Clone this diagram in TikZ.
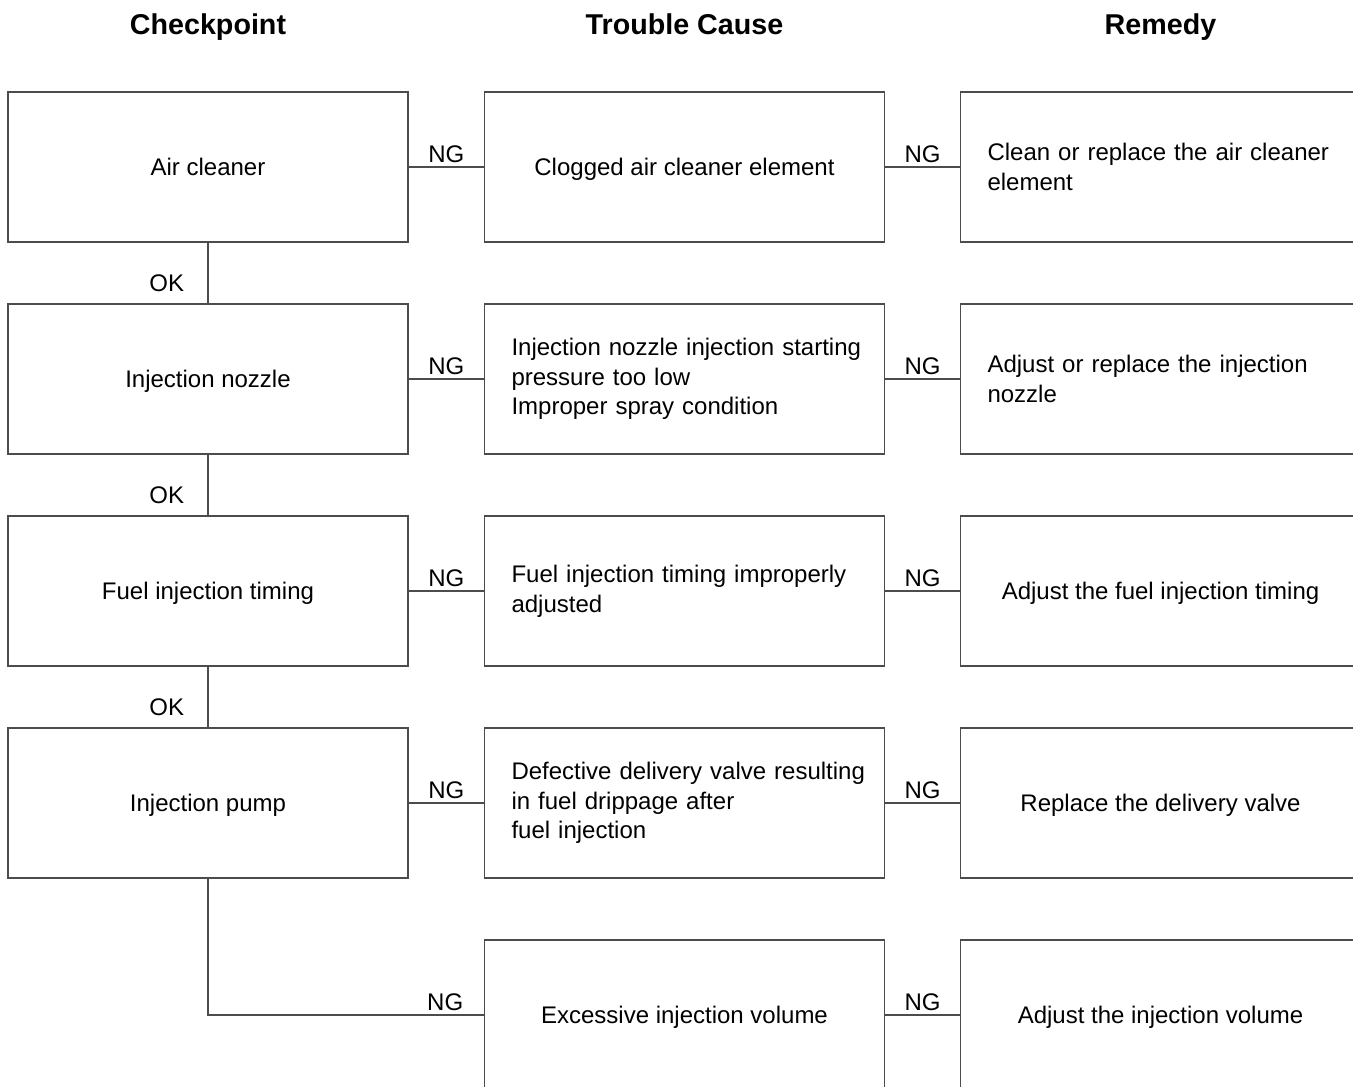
\documentclass[tikz,border=0pt]{standalone}
\usepackage{fontspec}
\setmainfont{Liberation Sans}
\newcommand{\boxfont}{\fontsize{18}{22.2}\selectfont}
\begin{document}
\begin{tikzpicture}[x=0.75pt,y=-0.75pt,
  box/.style={draw=black!70,line width=1pt,minimum width=300pt,minimum height=112.5pt,inner sep=0pt,font=\boxfont},
  lbox/.style={box,text width=259.5pt,align=left},
  cbox/.style={box,align=center,text height=13pt,text depth=1pt},
  conn/.style={draw=black!70,line width=1pt},
  lab/.style={font=\fontsize{18}{22}\selectfont,inner sep=3pt},
  head/.style={font=\fontsize{21.5}{25}\selectfont\bfseries,anchor=base}]
\useasboundingbox (0,0) rectangle (1353,1086);
\node[head] (h1) at (208,34) {Checkpoint};
\node[head] (h2) at (684.5,34) {Trouble Cause};
\node[head] (h3) at (1160.5,34) {Remedy};

\node[cbox] (a1) at (208,167) {Air cleaner};
\node[cbox] (a2) at (208,379) {Injection nozzle};
\node[cbox] (a3) at (208,591) {Fuel injection timing};
\node[cbox] (a4) at (208,803) {Injection pump};

\node[cbox] (b1) at (684.5,167) {Clogged air cleaner element};
\node[lbox] (b2) at (684.5,379) {\mbox{Injection nozzle injection starting}\\pressure too low\\Improper spray condition};
\node[lbox] (b3) at (684.5,591) {\mbox{Fuel injection timing improperly}\\adjusted};
\node[lbox] (b4) at (684.5,803) {\mbox{Defective delivery valve resulting}\\in fuel drippage after\\fuel injection};
\node[cbox] (b5) at (684.5,1015) {Excessive injection volume};

\node[lbox] (c1) at (1160.5,167) {\mbox{Clean or replace the air cleaner}\\element};
\node[lbox] (c2) at (1160.5,379) {\mbox{Adjust or replace the injection}\\nozzle};
\node[cbox] (c3) at (1160.5,591) {Adjust the fuel injection timing};
\node[cbox] (c4) at (1160.5,803) {Replace the delivery valve};
\node[cbox] (c5) at (1160.5,1015) {Adjust the injection volume};

\foreach \i in {1,2,3,4}{
  \draw[conn] (a\i.east) -- (b\i.west) node[lab,midway,above]{NG};
}
\foreach \i in {1,2,3,4,5}{
  \draw[conn] (b\i.east) -- (c\i.west) node[lab,midway,above]{NG};
}
\draw[conn] (a1.south) -- (a2.north) node[lab,midway,xshift=-31pt,yshift=-8pt]{OK};
\draw[conn] (a2.south) -- (a3.north) node[lab,midway,xshift=-31pt,yshift=-8pt]{OK};
\draw[conn] (a3.south) -- (a4.north) node[lab,midway,xshift=-31pt,yshift=-8pt]{OK};
\draw[conn] (a4.south) |- (b5.west) node[lab,pos=0.93,above]{NG};
\end{tikzpicture}
\end{document}
